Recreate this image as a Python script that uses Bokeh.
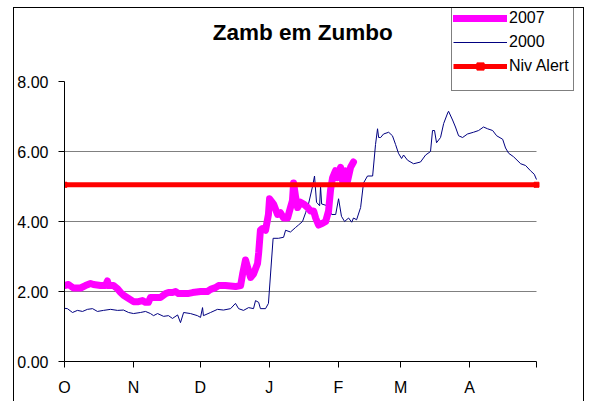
from bokeh.plotting import figure
from bokeh.models import Range1d, FixedTicker, Legend, LegendItem, Label
from bokeh.embed import file_html
from bokeh.resources import INLINE

# ---- data (day index from 1 Oct) ----
days_2000 = [0, 1.3, 3.6, 5.8, 8.1, 10.3, 12.6, 14.8, 17.5, 20.7, 23.8, 26.5, 28.8, 31,
             34.1, 36.4, 38.6, 40, 41.8, 44.5, 46.7, 48.5, 50.8, 52.1, 53.5, 56.6, 59.7,
             61.1, 62, 62.4, 65.6, 68.7, 71.4, 74.6, 76.8, 78.2, 80.4, 82.7, 84.9, 85.8,
             87.2, 88, 90.3, 91.6, 93.7, 96.1, 98.4, 99.3, 101.5, 103.8, 105.1, 106.9,
             108.3, 109.6, 111.4, 112.3, 113.2, 114.6, 115, 115.5, 118.1, 120, 121.8,
             123.1, 124.4, 125.8, 127.6, 129, 129.8, 131.2, 133, 134.3, 136.1, 138.4,
             139.7, 140.6, 141.1, 142, 143.3, 145.6, 147.3, 148.7, 150, 151.4, 152.3,
             154.1, 156.8, 159.9, 162.2, 164.4, 165.3, 166.2, 167.1, 168.9, 170.3, 172.1,
             172.5, 174.3, 175.6, 177, 178.8, 181, 183.7, 186, 188.2, 190, 192.3, 194.1,
             196.8, 198.1, 199.5, 201.7, 204.9, 207.1, 209.3, 211, 212]
vals_2000 = [1.52, 1.51, 1.40, 1.46, 1.43, 1.49, 1.51, 1.43, 1.46, 1.49, 1.46, 1.47, 1.40, 1.37,
             1.40, 1.43, 1.37, 1.31, 1.37, 1.29, 1.31, 1.23, 1.33, 1.11, 1.40, 1.37, 1.31,
             1.26, 1.54, 1.31, 1.40, 1.49, 1.47, 1.51, 1.66, 1.51, 1.46, 1.54, 1.51, 1.74,
             1.69, 1.51, 1.51, 1.66, 3.52, 3.52, 3.55, 3.75, 3.70, 3.83, 3.90, 4.00,
             4.25, 4.50, 5.00, 5.30, 4.55, 4.45, 5.00, 4.50, 4.45, 4.20, 4.20,
             4.65, 4.15, 4.00, 4.10, 3.98, 4.10, 4.05, 4.40, 5.10, 5.30, 5.30,
             6.20, 6.65, 6.40, 6.40, 6.50, 6.55, 6.45, 6.20, 5.95, 5.80, 5.90,
             5.75, 5.65, 5.70, 5.90, 6.00, 6.60, 6.60, 6.25, 6.40, 6.80, 7.10,
             7.15, 6.90, 6.70, 6.45, 6.40, 6.50, 6.55, 6.60, 6.70, 6.65, 6.60, 6.45,
             6.35, 6.10, 5.95, 5.85, 5.65, 5.60, 5.45, 5.35, 5.20]

days_2007 = [0, 1.8, 4, 7.2, 9.4, 11.7, 13, 16.2, 18.4, 19.3, 19.8, 22, 23.8, 25.2, 26.5,
             28.8, 31, 33.2, 35, 36.4, 37.7, 38.6, 43.1, 45.4, 46.7, 48.5, 49.9, 51.2,
             55.3, 57.5, 61.1, 64.2, 65.6, 67.8, 69.2, 72.3, 76.8, 79.1, 80, 81.3, 82.2,
             83.6, 84.9, 86.7, 87.2, 88, 88.9, 90.3, 91.6, 92.1, 93.9, 95.7, 97, 98.4,
             100.2, 101.5, 102.4, 102.9, 103.8, 104.7, 106, 107.4, 109.2, 110.5, 111.9,
             112.8, 114.1, 115.9, 117.3, 118.6, 119.5, 120.4, 121.7, 122.6, 124, 124.9,
             126.2, 127.1, 128.5, 129.8]
vals_2007 = [2.17, 2.20, 2.10, 2.10, 2.17, 2.23, 2.20, 2.17, 2.17, 2.30, 2.17, 2.17, 2.08, 1.97, 1.89,
             1.80, 1.71, 1.71, 1.74, 1.69, 1.69, 1.83, 1.83, 1.94, 1.97, 1.97, 2.00, 1.94,
             1.94, 1.97, 2.00, 2.00, 2.06, 2.11, 2.17, 2.17, 2.14, 2.17, 2.50, 2.90, 2.70,
             2.40, 2.50, 2.80, 3.10, 3.75, 3.80, 3.75, 4.20, 4.65, 4.50, 4.20, 4.25, 4.10,
             4.10, 4.40, 4.60, 5.10, 4.70, 4.40, 4.55, 4.50, 4.40, 4.30, 4.30,
             4.10, 3.90, 3.95, 4.00, 4.30, 4.90, 5.25, 5.45, 5.25, 5.55, 5.15,
             5.45, 5.15, 5.55, 5.70]

alert_days = [0, 212]
alert_vals = [5.05, 5.05]

month_ticks = [0, 31, 61, 92, 123, 151, 182, 212]
month_labels = ["O", "N", "D", "J", "F", "M", "A", ""]
y_ticks = [0, 2, 4, 6, 8]
y_labels = ["0.00", "2.00", "4.00", "6.00", "8.00"]
grid_ticks = [2, 4, 6]

FONT = "Liberation Sans"

x_start, x_end = month_ticks[0], month_ticks[-1]
y_start, y_end = y_ticks[0], y_ticks[-1]

# frame covers the whole chart area (canvas 571 wide, 50px left axis panel);
# axes are bounded to the data extent like the original plot area
PX_PER_DAY = 472 / (x_end - x_start)
PX_PER_UNIT = 280 / (y_end - y_start)
p = figure(width=571, height=394,
           x_range=Range1d(x_start, x_start + 521 / PX_PER_DAY),
           y_range=Range1d(y_start, y_start + 353 / PX_PER_UNIT),
           output_backend="svg", toolbar_location=None,
           min_border_left=50, min_border_right=0, min_border_top=0, min_border_bottom=41,
           styles={"margin-left": "13px", "margin-top": "7px",
                   "border-top": "1px solid black", "border-left": "1px solid black",
                   "border-right": "1px solid black"})
p.outline_line_color = None
p.background_fill_color = "white"
p.border_fill_color = "white"

# axes
p.xaxis.ticker = FixedTicker(ticks=month_ticks)
p.xaxis.major_label_overrides = {t: l for t, l in zip(month_ticks, month_labels)}
p.xaxis.bounds = (x_start, x_end)
p.yaxis.ticker = FixedTicker(ticks=y_ticks)
p.yaxis.major_label_overrides = {t: l for t, l in zip(y_ticks, y_labels)}
p.yaxis.bounds = (y_start, y_end)
for ax in (p.xaxis[0], p.yaxis[0]):
    ax.axis_line_color = "black"
    ax.major_tick_line_color = "black"
    ax.major_tick_in = 0
    ax.major_tick_out = 6
    ax.minor_tick_line_color = None
    ax.major_label_text_font = FONT
    ax.major_label_text_font_size = "16px"
    ax.major_label_text_color = "black"
p.xaxis.major_label_standoff = 11
p.yaxis.major_label_standoff = 10

p.xgrid.visible = False
p.ygrid.visible = False
# horizontal gridlines limited to the plot area
p.segment(x0=[x_start] * len(grid_ticks), x1=[x_end] * len(grid_ticks),
          y0=grid_ticks, y1=grid_ticks, line_color="#808080", line_width=1)

r00 = p.line(days_2000, vals_2000, line_color="#000080", line_width=1)
r07 = p.line(days_2007, vals_2007, line_color="#FF00FF", line_width=7,
             line_cap="round", line_join="round")
ral = p.line(alert_days, alert_vals, line_color="#FF0000", line_width=5)
ram = p.scatter(alert_days, alert_vals, marker="square", size=5,
                fill_color="#FF0000", line_color="#FF0000")

title = Label(x=(x_start + x_end) / 2 + 1, y=y_start + 329 / PX_PER_UNIT,
              text="Zamb em Zumbo", text_align="center", text_baseline="alphabetic",
              text_font=FONT, text_font_size="22.5px", text_font_style="bold",
              text_color="black")
p.add_layout(title)

legend = Legend(items=[LegendItem(label="2007", renderers=[r07]),
                       LegendItem(label="2000", renderers=[r00]),
                       LegendItem(label="Niv Alert", renderers=[ral, ram])],
                location=(387, 270), padding=1, spacing=6, margin=0,
                glyph_width=54, glyph_height=18, label_height=18, label_standoff=2,
                title="\u00a0" * 43, title_location="below", title_standoff=3,
                title_text_font_size="10px",
                border_line_color="black", border_line_width=1,
                background_fill_color="white", background_fill_alpha=1,
                label_text_font=FONT, label_text_font_size="16px",
                label_text_color="black")
p.add_layout(legend)

open("out.html", "w").write(file_html(p, INLINE))
